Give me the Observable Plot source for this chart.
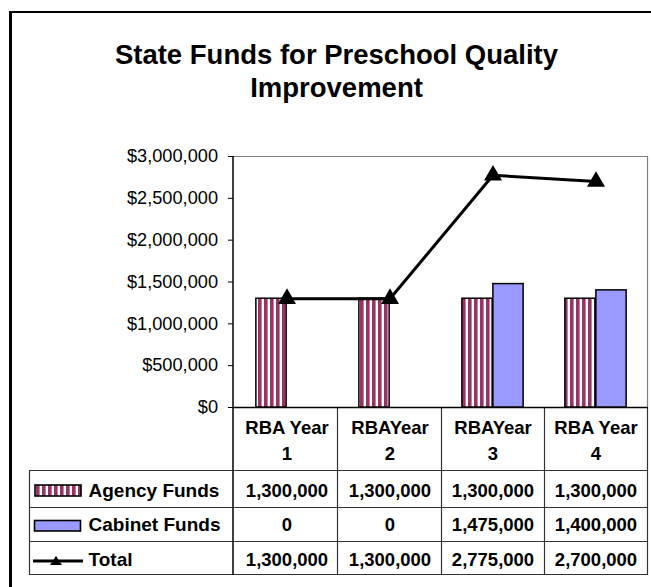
<!DOCTYPE html>
<html>
<head>
<meta charset="utf-8">
<script src="https://cdn.jsdelivr.net/npm/d3@7"></script>
<script src="https://cdn.jsdelivr.net/npm/@observablehq/plot@0.6"></script>
<style>
  html, body { margin: 0; padding: 0; background: #fff; }
  #wrap { position: relative; width: 651px; height: 587px; overflow: hidden;
          font-family: "Liberation Sans", Arial, sans-serif; color: #000; }
  #border { position: absolute; left: 9px; top: 11px; width: 720px; height: 720px;
            border-left: 3px solid #000; border-top: 2px solid #000; box-sizing: border-box; }
  #title { position: absolute; left: 11px; width: 651px; top: 38px; text-align: center;
           font-weight: bold; font-size: 27.5px; line-height: 33px; }
  #chart { position: absolute; left: 0; top: 0; }
</style>
</head>
<body>
<div id="wrap">
  <div id="border"></div>
  <div id="title">State Funds for Preschool Quality<br>Improvement</div>
  <div id="chart"></div>
</div>
<script>
// ---- data ----
const categories = ["RBA Year 1", "RBAYear 2", "RBAYear 3", "RBA Year 4"];
const agencyFunds = [1300000, 1300000, 1300000, 1300000];
const cabinetFunds = [0, 0, 1475000, 1400000];
const totalFunds = [1300000, 1300000, 2775000, 2700000];
const seriesNames = ["Agency Funds", "Cabinet Funds", "Total"];
const yTicks = [0, 500000, 1000000, 1500000, 2000000, 2500000, 3000000];

// ---- tables built from the arrays ----
const agencyRows = categories.map((c, i) => ({cat: c, value: agencyFunds[i]}));
const cabinetRows = categories.map((c, i) => ({cat: c, value: cabinetFunds[i]}));
const totalRows = categories.map((c, i) => ({cat: c, value: totalFunds[i]}));

// ---- layout ----
const W = 651, H = 587, mL = 233, mR = 3, mT = 156, mB = 180;
const bw = (W - mL - mR) / categories.length;
const barW = 31;
const fmt = d3.format(",");
const FONT = '"Liberation Sans", Arial, sans-serif';
const STRIPE = "#993366", BLUE = "#9999FF", GRID = "#333";
const TICK_FS = 18.2, TABLE_FS = 18.5, LEGEND_FS = 19;

function tableAndDecor(index, scales, values, dims) {
  const {width, height, marginLeft, marginRight, marginTop, marginBottom} = dims;
  const left = marginLeft, right = width - marginRight, top = marginTop, base = height - marginBottom;
  const tLeft = 29.5;
  const rowY = [base, base + 63, base + 100, base + 134, base + 167];
  const g = d3.create("svg:g");
  const defs = g.append("defs");
  const pat = defs.append("pattern").attr("id", "agencyStripes")
    .attr("patternUnits", "userSpaceOnUse").attr("width", 6).attr("height", 6);
  pat.append("rect").attr("width", 6).attr("height", 6).attr("fill", "#fff");
  pat.append("rect").attr("width", 3.6).attr("height", 6).attr("fill", STRIPE);

  // plot area frame (gray top/right)
  g.append("path").attr("d", `M${left},${top + 0.5}H${right - 0.5}V${base}`)
    .attr("fill", "none").attr("stroke", "#808080").attr("stroke-width", 1.2);
  // data table grid
  for (let k = 1; k < rowY.length; k++) {
    g.append("line").attr("x1", tLeft).attr("x2", right).attr("y1", rowY[k] + 0.5).attr("y2", rowY[k] + 0.5)
      .attr("stroke", GRID).attr("stroke-width", 1.2);
  }
  g.append("line").attr("x1", tLeft).attr("x2", tLeft).attr("y1", rowY[1]).attr("y2", rowY[4] + 1)
    .attr("stroke", GRID).attr("stroke-width", 1.2);
  for (let k = 1; k < categories.length; k++) {
    const x = Math.round(left + k * bw) + 0.5;
    g.append("line").attr("x1", x).attr("x2", x).attr("y1", base).attr("y2", rowY[4] + 1)
      .attr("stroke", GRID).attr("stroke-width", 1.2);
  }
  g.append("line").attr("x1", right - 0.5).attr("x2", right - 0.5).attr("y1", base).attr("y2", rowY[4] + 1)
    .attr("stroke", GRID).attr("stroke-width", 1.2);
  // y axis line and baseline
  g.append("line").attr("x1", left).attr("x2", left).attr("y1", top).attr("y2", rowY[4] + 1)
    .attr("stroke", "#000").attr("stroke-width", 1.5);
  g.append("line").attr("x1", left).attr("x2", right).attr("y1", base + 0.5).attr("y2", base + 0.5)
    .attr("stroke", "#000").attr("stroke-width", 1.5);

  // legend keys
  g.append("rect").attr("x", 35).attr("y", 485).attr("width", 46).attr("height", 11)
    .attr("fill", "url(#agencyStripes)").attr("stroke", "#000").attr("stroke-width", 1.6);
  g.append("rect").attr("x", 34.5).attr("y", 520.5).attr("width", 46).attr("height", 10.5)
    .attr("fill", BLUE).attr("stroke", "#000").attr("stroke-width", 1.6);
  g.append("line").attr("x1", 33).attr("x2", 83).attr("y1", 561).attr("y2", 561)
    .attr("stroke", "#000").attr("stroke-width", 3);
  g.append("path").attr("d", "M56,556L50,565H62Z").attr("fill", "#000");
  return g.node();
}

const textBase = {frameAnchor: "bottom", lineAnchor: "middle", fontSize: TABLE_FS, fontWeight: "bold", fill: "#000"};
const legendBase = {frameAnchor: "bottom-left", lineAnchor: "middle", dx: -145, textAnchor: "start",
                    fontSize: LEGEND_FS, fontWeight: "bold", fill: "#000"};

const chart = Plot.plot({
  width: W, height: H,
  marginLeft: mL, marginRight: mR, marginTop: mT, marginBottom: mB,
  style: {background: "transparent", overflow: "visible", fontFamily: FONT, color: "#000"},
  x: {domain: categories, axis: null, padding: 0},
  y: {domain: [0, 3000000]},
  marks: [
    tableAndDecor,
    Plot.axisY({ticks: yTicks, tickFormat: d => "$" + fmt(d), tickSize: 5, tickPadding: 10.5,
                fontSize: TICK_FS, label: null, stroke: "#000", fill: "#000"}),
    Plot.barY(agencyRows, {x: "cat", y: "value", fill: "url(#agencyStripes)", stroke: "#000", strokeWidth: 1.5,
                           insetLeft: bw / 2 - barW, insetRight: bw / 2}),
    Plot.barY(cabinetRows.filter(d => d.value > 0), {x: "cat", y: "value", fill: BLUE, stroke: "#000", strokeWidth: 1.5,
                           insetLeft: bw / 2, insetRight: bw / 2 - barW}),
    Plot.line(totalRows, {x: "cat", y: "value", stroke: "#000", strokeWidth: 3}),
    Plot.dot(totalRows, {x: "cat", y: "value", symbol: "triangle", r: 6.7, fill: "#000", stroke: "none"}),
    // data table: header
    Plot.text(categories, {...textBase, x: d => d, text: d => d.replace(/ (\S+)$/, "\n$1"), dy: 31.1, lineHeight: 1.39}),
    // data table: values
    Plot.text(agencyRows, {...textBase, x: "cat", text: d => fmt(d.value), dy: 83.2}),
    Plot.text(cabinetRows, {...textBase, x: "cat", text: d => fmt(d.value), dy: 117.2}),
    Plot.text(totalRows, {...textBase, x: "cat", text: d => fmt(d.value), dy: 152.9}),
    // data table: legend labels
    Plot.text([seriesNames[0]], {...legendBase, text: d => d, dy: 83.2}),
    Plot.text([seriesNames[1]], {...legendBase, text: d => d, dy: 117.2}),
    Plot.text([seriesNames[2]], {...legendBase, text: d => d, dy: 152.9})
  ]
});
document.getElementById("chart").appendChild(chart);
</script>
</body>
</html>
